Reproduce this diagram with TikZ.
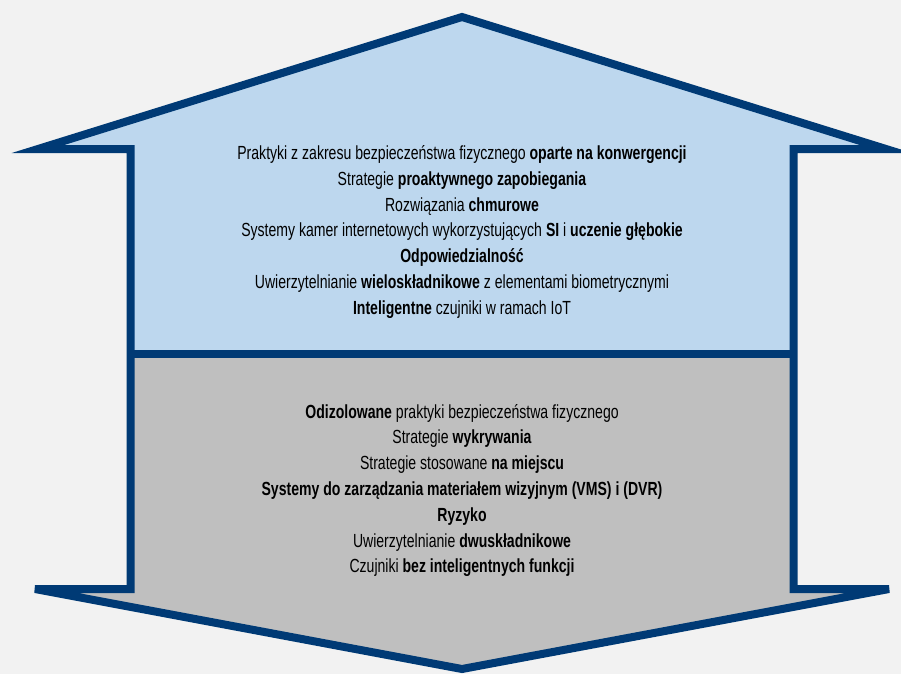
\documentclass[tikz,border=0pt]{standalone}
\usepackage{fontspec}
\setmainfont{Liberation Sans}[FakeStretch=0.74]
\usepackage{tikz}
\definecolor{bgcol}{HTML}{F2F2F2}
\definecolor{topcol}{HTML}{BDD7EE}
\definecolor{botcol}{HTML}{BFBFBF}
\definecolor{edgecol}{HTML}{003A75}
\tikzset{
	block/.style={align=center, text=black, font=\fontsize{19}{25.8}\selectfont},
	rim/.style={line width=8pt, color=edgecol, miter limit=10}
}

\begin{document}
\begin{tikzpicture}[x=1pt, y=-1pt]
		%%%%% START %%%%%
		
		\fill[bgcol] (0, 0) rectangle (901, 674);
		\useasboundingbox (0, 0) rectangle (901, 674);
		
		% upper half
		\fill[topcol] (462, 17) -- (38, 149) -- (130.5, 149) -- (130.5, 353.5) -- (793.5, 353.5) -- (793.5, 149) -- (886, 149) -- cycle;
		% lower half
		\fill[botcol] (130.5, 353.5) -- (130.5, 589) -- (35, 589) -- (462, 669) -- (889, 589) -- (793.5, 589) -- (793.5, 353.5) -- cycle;
		
		\draw[rim] (462, 17) -- (38, 149) -- (130.5, 149) -- (130.5, 589) -- (35, 589) -- (462, 669) -- (889, 589) -- (793.5, 589) -- (793.5, 149) -- (886, 149) -- cycle;
		\draw[rim] (130.5, 353.5) -- (793.5, 353.5);
		
		\node[block] (upper) at (462, 232) {Praktyki z zakresu bezpieczeństwa fizycznego \textbf{oparte na konwergencji}\\
			Strategie \textbf{proaktywnego zapobiegania}\\
			Rozwiązania \textbf{chmurowe}\\
			Systemy kamer internetowych wykorzystujących \textbf{SI} i \textbf{uczenie głębokie}\\
			\textbf{Odpowiedzialność}\\
			Uwierzytelnianie \textbf{wieloskładnikowe} z elementami biometrycznymi\\
			\textbf{Inteligentne} czujniki w ramach IoT};
		
		\node[block] (lower) at (462, 490.5) {\textbf{Odizolowane} praktyki bezpieczeństwa fizycznego\\
			Strategie \textbf{wykrywania}\\
			Strategie stosowane \textbf{na miejscu}\\
			\textbf{Systemy do zarządzania materiałem wizyjnym (VMS) i (DVR)}\\
			\textbf{Ryzyko}\\
			Uwierzytelnianie \textbf{dwuskładnikowe}\\
			Czujniki \textbf{bez inteligentnych funkcji}};
		
		%%%%% END %%%%%
	\end{tikzpicture}
\end{document}
